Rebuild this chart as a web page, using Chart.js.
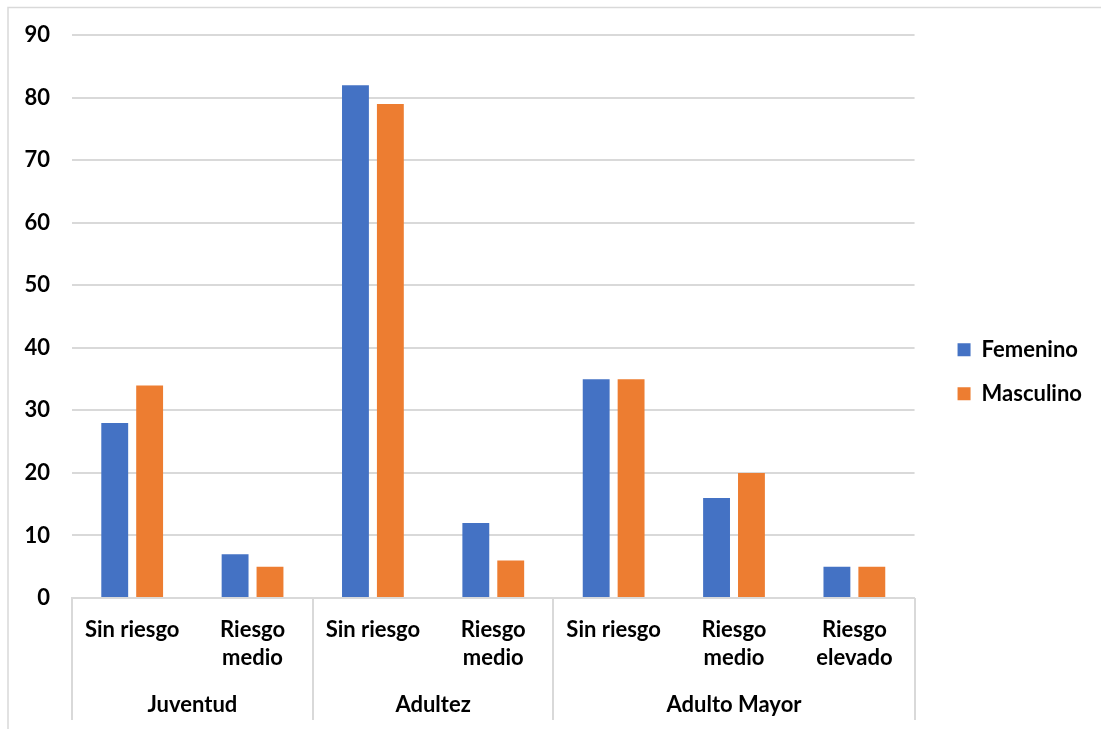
<!DOCTYPE html>
<html>
<head>
<meta charset="utf-8">
<script src="https://cdn.jsdelivr.net/npm/chart.js@4.4.0/dist/chart.umd.min.js"></script>
<style>
	html, body { margin: 0; padding: 0; background: #fff; }
</style>
</head>
<body>
<canvas id="riskChart" width="1101" height="729"></canvas>
<script>
// Risk level by age group and sex
const riskLabels = [['Sin riesgo'], ['Riesgo', 'medio'], ['Sin riesgo'], ['Riesgo', 'medio'], ['Sin riesgo'], ['Riesgo', 'medio'], ['Riesgo', 'elevado']]
const ageGroups = ['Juventud', 'Adultez', 'Adulto Mayor']
const groupSizes = [2, 2, 3]
const femenino = [28, 7, 82, 12, 35, 16, 5]
const masculino = [34, 5, 79, 6, 35, 20, 5]
const yMin = 0
const yMax = 90
const yStep = 10

const fontFamily = 'Lato, Calibri, "Open Sans", sans-serif'
const fontSize = 22
const lineGrey = '#d9d9d9'

// second row of the category axis: age groups with separators
const groupAxis = {
	id: 'groupAxis',
	afterDraw(chart) {
		const ctx = chart.ctx
		const x = chart.scales.x
		const top = chart.chartArea.bottom
		ctx.save()
		// frame around the chart
		ctx.strokeStyle = lineGrey
		ctx.lineWidth = 1.5
		ctx.beginPath()
		ctx.moveTo(8, chart.height)
		ctx.lineTo(8, 7.5)
		ctx.lineTo(chart.width, 7.5)
		ctx.stroke()

		ctx.lineWidth = 2
		ctx.font = 'bold ' + fontSize + 'px ' + fontFamily
		ctx.fillStyle = '#000'
		ctx.textAlign = 'center'
		ctx.textBaseline = 'middle'
		let start = 0
		const edges = [start]
		ageGroups.forEach((name, i) => {
			const end = start + groupSizes[i]
			const left = x.getPixelForValue(start - 0.5)
			const right = x.getPixelForValue(end - 0.5)
			ctx.fillText(name, (left + right) / 2, top + 107)
			edges.push(end)
			start = end
		})
		edges.forEach(e => {
			const px = Math.round(x.getPixelForValue(e - 0.5))
			ctx.beginPath()
			ctx.moveTo(px, top)
			ctx.lineTo(px, top + 122)
			ctx.stroke()
		})
		ctx.restore()
	}
}

const data = {
	labels: riskLabels,
	datasets: [
		{
			label: 'Femenino',
			backgroundColor: '#4472c4',
			data: femenino
		},
		{
			label: 'Masculino',
			backgroundColor: '#ed7d31',
			data: masculino
		}
	]
}

const config_bar = {
	type: 'bar',
	data: data,
	options: {
		responsive: false,
		animation: false,
		barPercentage: 0.77,
		categoryPercentage: 0.58,
		layout: {
			padding: { top: 28.5, right: 9, bottom: 14, left: 0 }
		},
		plugins: {
			legend: {
				position: 'right',
				labels: {
					boxWidth: 13,
					boxHeight: 13,
					padding: 22,
					color: '#000',
					font: { family: fontFamily, size: fontSize, weight: 'bold' }
				}
			},
			tooltip: { enabled: false }
		},
		scales: {
			x: {
				grid: { display: false, drawTicks: false },
				border: { color: lineGrey, width: 2 },
				ticks: {
					color: '#000',
					padding: 18,
					maxRotation: 0,
					autoSkip: false,
					font: { family: fontFamily, size: fontSize, weight: 'bold', lineHeight: '28px' }
				},
				afterFit: s => { s.height = 117 }
			},
			y: {
				min: yMin,
				max: yMax,
				grid: { color: lineGrey, lineWidth: 2, drawTicks: false },
				border: { display: false },
				ticks: {
					stepSize: yStep,
					color: '#000',
					padding: 22,
					font: { family: fontFamily, size: fontSize, weight: 'bold' }
				},
				afterFit: s => { s.width = 72 }
			},
			// empty strip between the plot and the legend
			gap: {
				type: 'linear',
				position: 'right',
				grid: { display: false },
				border: { display: false },
				ticks: { display: false },
				afterFit: s => { s.width = 21 }
			}
		}
	},
	plugins: [groupAxis]
}

const riskChart = new Chart(document.getElementById('riskChart'), config_bar)
</script>
</body>
</html>
